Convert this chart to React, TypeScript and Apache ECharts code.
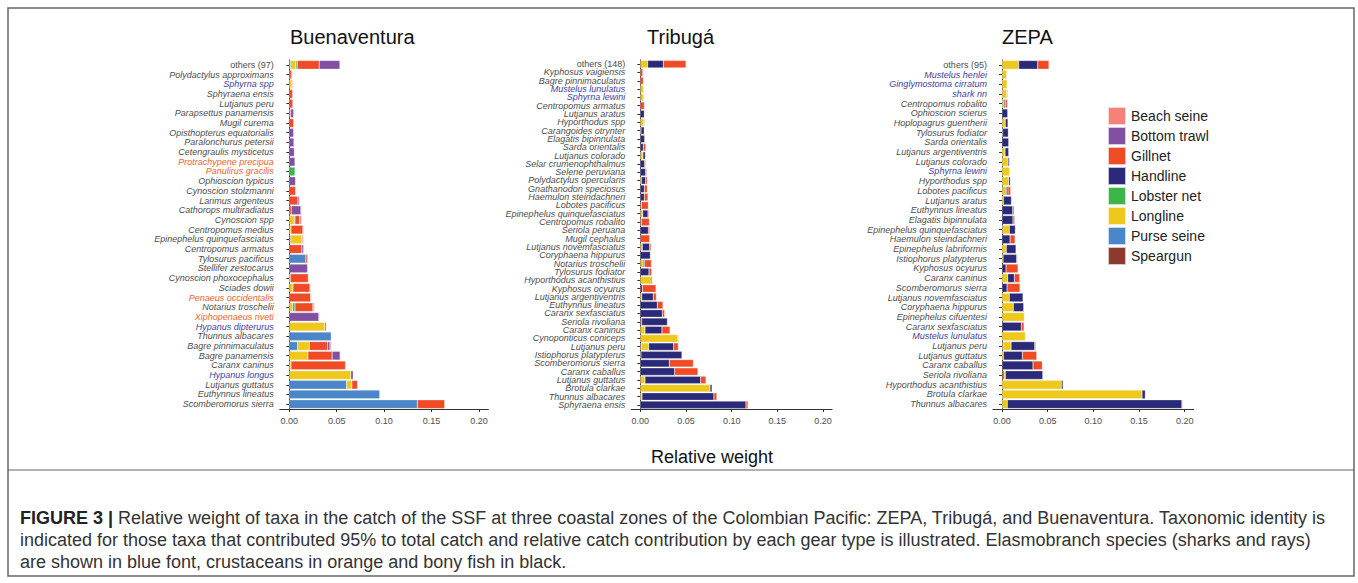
import React, { useEffect, useRef } from "react";
import * as echarts from "echarts";

// ---------- DATA ----------
const GEARS = ["Speargun", "Purse seine", "Longline", "Lobster net", "Handline", "Gillnet", "Bottom trawl", "Beach seine"];
const LEGEND_ORDER = ["Beach seine", "Bottom trawl", "Gillnet", "Handline", "Lobster net", "Longline", "Purse seine", "Speargun"];
const GEAR_COLORS: Record<string, string> = {
  "Beach seine": "#F4827A",
  "Bottom trawl": "#8150A3",
  "Gillnet": "#EF4B26",
  "Handline": "#2B2A78",
  "Lobster net": "#3DB54A",
  "Longline": "#EEC81C",
  "Purse seine": "#4A86C8",
  "Speargun": "#8B3A2E",
};
const X_TICKS = [0, 0.05, 0.1, 0.15, 0.2];

const BLUE_NAMES = ["Sphyrna spp", "Hypanus dipterurus", "Hypanus longus", "Mustelus lunulatus", "Sphyrna lewini", "Mustelus henlei", "Ginglymostoma cirratum", "shark nn"];
const ORANGE_NAMES = ["Protrachypene precipua", "Panulirus gracilis", "Penaeus occidentalis", "Xiphopenaeus riveti"];

// Buenaventura
const BUEN_CATS = [
  "others (97)", "Polydactylus approximans", "Sphyrna spp", "Sphyraena ensis", "Lutjanus peru", "Parapsettus panamensis",
  "Mugil curema", "Opisthopterus equatorialis", "Paralonchurus petersii", "Cetengraulis mysticetus", "Protrachypene precipua", "Panulirus gracilis",
  "Ophioscion typicus", "Cynoscion stolzmanni", "Larimus argenteus", "Cathorops multiradiatus", "Cynoscion spp", "Centropomus medius",
  "Epinephelus quinquefasciatus", "Centropomus armatus", "Tylosurus pacificus", "Stellifer zestocarus", "Cynoscion phoxocephalus", "Sciades dowii",
  "Penaeus occidentalis", "Notarius troschelii", "Xiphopenaeus riveti", "Hypanus dipterurus", "Thunnus albacares", "Bagre pinnimaculatus",
  "Bagre panamensis", "Caranx caninus", "Hypanus longus", "Lutjanus guttatus", "Euthynnus lineatus", "Scomberomorus sierra",
];
const BUEN_SPEARGUN = [0,0,0,0,0,0, 0,0,0,0,0,0, 0,0,0,0,0,0, .0014,0,0,0,0,0, 0,0,0,0,0,0, 0,0,0,0,0,0];
const BUEN_PURSE = [.0014,0,0,0,0,0, 0,0,0,0,0,0, 0,0,0,0,0,0, 0,0,.0175,0,0,0, 0,0,0,0,.0442,.0088, 0,0,0,.0604,.0954,.1351];
const BUEN_LONGLINE = [.0056,0,.0021,0,0,0, 0,0,0,0,0,0, 0,0,0,0,.0053,.0018, .0119,0,0,0,.0011,.0039, 0,.0035,0,.0375,0,.0123, .0196,.0018,.0649,.0056,0,0];
const BUEN_LOBSTER = [.0014,0,0,0,0,0, 0,0,0,0,0,.006, 0,0,0,0,0,0, 0,0,0,0,0,0, 0,.0025,0,0,0,0, 0,0,0,0,0,0];
const BUEN_HANDLINE = [0,0,0,0,0,0, 0,0,0,0,0,0, 0,0,0,0,.0007,0, 0,0,0,0,0,0, 0,0,0,0,0,0, 0,0,0,0,0,0];
const BUEN_GILLNET = [.0232,.0021,0,.0035,.0039,.0014, .0046,0,0,0,0,0, 0,.0067,.0091,.0021,.0049,.0126, .0011,.0133,.0018,0,.0189,.0179, .0225,.0189,0,0,0,.0193, .0256,.0575,0,.006,0,.0288];
const BUEN_TRAWL = [.0218,.0011,0,0,0,.0032, 0,.0046,.0049,.0053,.006,0, .0067,0,.0014,.0102,0,0, 0,.0018,0,.0193,0,0, 0,.0011,.0312,.0014,0,.0025, .0084,0,.0025,0,0,0];
const BUEN_BEACH = [0,0,.0014,0,.0004,0, 0,0,0,0,0,0, .0004,.0007,.001,.0007,.0021,.0007, .0007,0,0,.0007,.0007,.0007, .0007,.0007,.0007,0,0,.0014, .0007,.0007,0,0,0,0];

// Tribugá
const TRIB_CATS = [
  "others (148)", "Kyphosus vaigiensis", "Bagre pinnimaculatus", "Mustelus lunulatus", "Sphyrna lewini", "Centropomus armatus",
  "Lutjanus aratus", "Hyporthodus spp", "Carangoides otrynter", "Elagatis bipinnulata", "Sarda orientalis", "Lutjanus colorado",
  "Selar crumenophthalmus", "Selene peruviana", "Polydactylus opercularis", "Gnathanodon speciosus", "Haemulon steindachneri", "Lobotes pacificus",
  "Epinephelus quinquefasciatus", "Centropomus robalito", "Seriola peruana", "Mugil cephalus", "Lutjanus novemfasciatus", "Coryphaena hippurus",
  "Notarius troschelii", "Tylosurus fodiator", "Hyporthodus acanthistius", "Kyphosus ocyurus", "Lutjanus argentiventris", "Euthynnus lineatus",
  "Caranx sexfasciatus", "Seriola rivoliana", "Caranx caninus", "Cynoponticus coniceps", "Lutjanus peru", "Istiophorus platypterus",
  "Scomberomorus sierra", "Caranx caballus", "Lutjanus guttatus", "Brotula clarkae", "Thunnus albacares", "Sphyraena ensis",
];
const TRIB_SPEARGUN = [0,0,0,0,0,0, 0,0,0,0,0,0, 0,0,0,0,0,.0011, 0,.0011,0,0,0,0, 0,0,0,0,0,0, 0,.0015,0,0,.0011,.0007, 0,0,0,0,0,0];
const TRIB_PURSE: number[] = [];
const TRIB_LONGLINE = [.008,0,0,.0036,.0033,0, 0,.004,.0007,0,0,.0029, 0,0,.0011,0,0,0, .0026,0,0,0,.0022,0, .0033,0,.012,0,.0015,0, 0,0,.0051,.0412,.008,0, 0,0,.0051,.0763,.0018,0];
const TRIB_LOBSTER: number[] = [];
const TRIB_HANDLINE = [.0172,0,0,0,0,0, .0044,.0007,.0036,.0047,.0033,.0026, .0047,.0058,.0047,.0044,.0044,0, .0058,0,.0088,0,.008,.011, .0015,.0095,.0011,.0022,.0128,.0186, .0241,.0281,.0186,0,.0274,.0449, .0318,.0376,.061,.0022,.0788,.1157];
const TRIB_GILLNET = [.0248,.0029,.0033,0,.0007,.0044, .0004,0,.0004,0,.0026,.0007, .0011,.0011,.0018,.0033,.004,.0077, .0011,.0088,.0015,.0102,.0015,.0007, .0073,.0029,0,.015,.0033,.0062, .0026,0,.0088,0,.0051,0, .0263,.0255,.0058,0,.0033,.0022];
const TRIB_TRAWL: number[] = [];
const TRIB_BEACH = [.0007,.0004,0,0,0,.0007, 0,0,0,0,0,0, 0,0,0,0,0,0, 0,0,0,0,0,0, .0007,0,0,0,0,0, .0007,0,0,.0007,.0007,0, 0,0,0,0,.0004,0];

// ZEPA
const ZEPA_CATS = [
  "others (95)", "Mustelus henlei", "Ginglymostoma cirratum", "shark nn", "Centropomus robalito", "Ophioscion scierus",
  "Hoplopagrus guentherii", "Tylosurus fodiator", "Sarda orientalis", "Lutjanus argentiventris", "Lutjanus colorado", "Sphyrna lewini",
  "Hyporthodus spp", "Lobotes pacificus", "Lutjanus aratus", "Euthynnus lineatus", "Elagatis bipinnulata", "Epinephelus quinquefasciatus",
  "Haemulon steindachneri", "Epinephelus labriformis", "Istiophorus platypterus", "Kyphosus ocyurus", "Caranx caninus", "Scomberomorus sierra",
  "Lutjanus novemfasciatus", "Coryphaena hippurus", "Epinephelus cifuentesi", "Caranx sexfasciatus", "Mustelus lunulatus", "Lutjanus peru",
  "Lutjanus guttatus", "Caranx caballus", "Seriola rivoliana", "Hyporthodus acanthistius", "Brotula clarkae", "Thunnus albacares",
];
const ZEPA_SPEARGUN = [0,0,0,0,0,0, 0,0,0,0,0,0, 0,0,0,0,0,.0007, 0,0,0,0,0,0, 0,0,0,0,0,.0011, 0,0,.0022,0,0,0];
const ZEPA_PURSE: number[] = [];
const ZEPA_LONGLINE = [.0182,.0051,.0055,.0051,.0022,0, .0036,.0007,0,.0033,.0066,.0084, .0073,.0047,.0015,0,0,.0073, 0,.0047,.0011,0,.0062,0, .008,.0124,.0245,0,.0255,.0088, .0015,0,.0015,.065,.1533,.0058];
const ZEPA_LOBSTER: number[] = [];
const ZEPA_HANDLINE = [.0208,0,0,0,.0015,.0062, .0029,.0062,.0073,.004,.0015,0, .0018,.0018,.0088,.0117,.012,.0066, .0088,.0106,.015,.0044,.0073,.0055, .015,.0113,0,.0212,0,.0259, .0208,.0339,.0409,.0018,.0036,.1912];
const ZEPA_GILLNET = [.0124,0,0,0,.0022,0, 0,0,0,0,0,0, 0,.0029,0,.0015,.0018,0, .0055,0,.0007,.0131,.0058,.0142, 0,0,0,.0029,0,.0011, .0157,.0102,0,0,0,.0007];
const ZEPA_TRAWL: number[] = [];
const ZEPA_BEACH = [0,0,0,.0011,0,0, 0,0,0,0,0,0, 0,0,0,0,0,0, 0,0,0,0,0,0, 0,0,0,0,0,0, 0,0,0,0,0,0];

const CAPTION_1 = "Relative weight of taxa in the catch of the SSF at three coastal zones of the Colombian Pacific: ZEPA, Tribugá, and Buenaventura. Taxonomic identity is";
const CAPTION_2 = "indicated for those taxa that contributed 95% to total catch and relative catch contribution by each gear type is illustrated. Elasmobranch species (sharks and rays)";
const CAPTION_3 = "are shown in blue font, crustaceans in orange and bony fish in black.";

// ---------- LAYOUT ----------
const FONT = "'Liberation Sans', Arial, Helvetica, sans-serif";
const PANELS = [
  {
    title: "Buenaventura", titleLeft: 290, cats: BUEN_CATS, left: 279.8, width: 208.6,
    gears: [BUEN_SPEARGUN, BUEN_PURSE, BUEN_LONGLINE, BUEN_LOBSTER, BUEN_HANDLINE, BUEN_GILLNET, BUEN_TRAWL, BUEN_BEACH],
  },
  {
    title: "Tribugá", titleLeft: 647, cats: TRIB_CATS, left: 631.2, width: 200.9,
    gears: [TRIB_SPEARGUN, TRIB_PURSE, TRIB_LONGLINE, TRIB_LOBSTER, TRIB_HANDLINE, TRIB_GILLNET, TRIB_TRAWL, TRIB_BEACH],
  },
  {
    title: "ZEPA", titleLeft: 1002, cats: ZEPA_CATS, left: 992.9, width: 200.9,
    gears: [ZEPA_SPEARGUN, ZEPA_PURSE, ZEPA_LONGLINE, ZEPA_LOBSTER, ZEPA_HANDLINE, ZEPA_GILLNET, ZEPA_TRAWL, ZEPA_BEACH],
  },
];
const GRID_TOP = 60;
const GRID_HEIGHT = 349;

function catLabel(v: string): string {
  if (v.startsWith("others")) return `{o|${v}}`;
  if (BLUE_NAMES.includes(v)) return `{b|${v}}`;
  if (ORANGE_NAMES.includes(v)) return `{r|${v}}`;
  return `{k|${v}}`;
}

export default function App() {
  const ref = useRef<HTMLDivElement>(null);
  useEffect(() => {
    if (!ref.current) return;
    const chart = echarts.init(ref.current, undefined, { renderer: "svg" });

    const grids = PANELS.map((p) => ({ left: p.left, top: GRID_TOP, width: p.width, height: GRID_HEIGHT, containLabel: false }));
    const xAxes = PANELS.map((_, i) => ({
      type: "value",
      gridIndex: i,
      min: -0.01,
      max: 0.21,
      splitLine: { show: false },
      axisLine: { show: true, lineStyle: { color: "#333", width: 1 } },
      axisTick: { show: true, length: 3, lineStyle: { color: "#333" }, customValues: X_TICKS },
      axisLabel: {
        customValues: X_TICKS,
        formatter: (v: number) => v.toFixed(2),
        fontSize: 9,
        color: "#4d4d4d",
        margin: 7,
        fontFamily: FONT,
      },
    }));
    const richBase = { fontSize: 9, fontFamily: FONT, fontStyle: "italic", color: "#4d4d4d" };
    const yAxes = PANELS.map((p, i) => ({
      type: "category",
      gridIndex: i,
      data: p.cats,
      inverse: true,
      axisLine: { show: true, lineStyle: { color: "#333", width: 1 } },
      axisTick: { show: true, length: 3, alignWithLabel: true, lineStyle: { color: "#333" } },
      axisLabel: {
        interval: 0,
        margin: 6,
        formatter: catLabel,
        rich: {
          o: { ...richBase, fontStyle: "normal" },
          k: { ...richBase },
          b: { ...richBase, color: "#3D3DA3" },
          r: { ...richBase, color: "#F0622D" },
        },
      },
    }));

    const series: any[] = [];
    PANELS.forEach((p, pi) => {
      GEARS.forEach((g, gi) => {
        const arr = p.gears[gi];
        const data = p.cats.map((_, ci) => (arr[ci] && arr[ci] > 0 ? arr[ci] : "-"));
        series.push({
          type: "bar",
          name: g,
          xAxisIndex: pi,
          yAxisIndex: pi,
          stack: "panel" + pi,
          data,
          barCategoryGap: "10%",
          itemStyle: { color: GEAR_COLORS[g], borderColor: "rgba(255,255,255,0.7)", borderWidth: 0.4 },
          emphasis: { disabled: true },
        });
      });
    });

    const option = {
      animation: false,
      backgroundColor: "#ffffff",
      textStyle: { fontFamily: FONT },
      title: PANELS.map((p) => ({
        text: p.title,
        left: p.titleLeft,
        top: 27,
        padding: 0,
        textStyle: { fontSize: 20, fontWeight: "normal", color: "#111", fontFamily: FONT },
      })),
      legend: {
        orient: "vertical",
        left: 1107,
        top: 106,
        padding: 0,
        itemWidth: 18,
        itemHeight: 18,
        itemGap: 0,
        icon: "rect",
        selectedMode: false,
        data: LEGEND_ORDER,
        textStyle: { fontSize: 14, lineHeight: 19.7, color: "#222", fontFamily: FONT },
      },
      grid: grids,
      xAxis: xAxes,
      yAxis: yAxes,
      series,
      graphic: [
        {
          type: "rect",
          silent: true,
          shape: { x: 8, y: 8, width: 1346, height: 568 },
          style: { fill: "none", stroke: "#666", lineWidth: 1.5 },
        },
        {
          type: "line",
          silent: true,
          shape: { x1: 8, y1: 470, x2: 1354, y2: 470 },
          style: { stroke: "#666", lineWidth: 1.2 },
        },
        {
          type: "text",
          silent: true,
          x: 712,
          y: 457,
          style: { text: "Relative weight", fontSize: 18, fill: "#111", fontFamily: FONT, textAlign: "center", textVerticalAlign: "middle" },
        },
        {
          type: "text",
          silent: true,
          x: 20,
          y: 518,
          style: {
            text: "{h|FIGURE 3 |} " + CAPTION_1,
            fontSize: 18,
            fill: "#333",
            fontFamily: FONT,
            textVerticalAlign: "middle",
            rich: { h: { fontWeight: "bold", fontSize: 18, fill: "#222", fontFamily: FONT } },
          },
        },
        {
          type: "text",
          silent: true,
          x: 20,
          y: 540,
          style: { text: CAPTION_2, fontSize: 18, fill: "#333", fontFamily: FONT, textVerticalAlign: "middle" },
        },
        {
          type: "text",
          silent: true,
          x: 20,
          y: 562,
          style: { text: CAPTION_3, fontSize: 18, fill: "#333", fontFamily: FONT, textVerticalAlign: "middle" },
        },
      ],
    };
    chart.setOption(option as any);
    return () => chart.dispose();
  }, []);
  return <div ref={ref} style={{ position: "absolute", left: 0, top: 0, width: 1358, height: 583 }} />;
}
